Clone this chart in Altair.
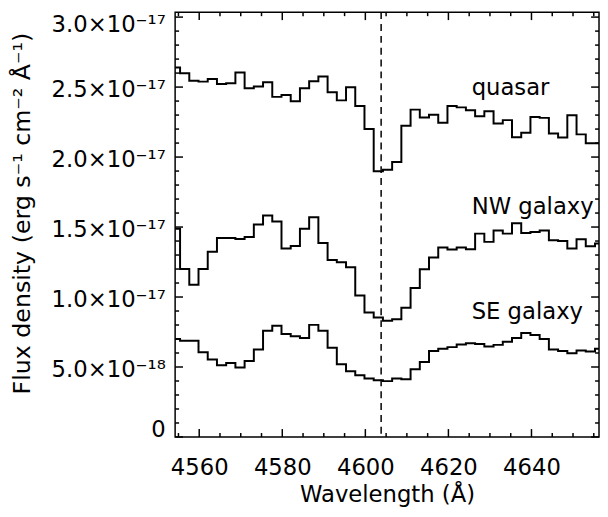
import altair as alt
import pandas as pd

# bin edges (Angstrom) of the spectra; last edge closes the final bin
wavelength_edges = [4553.17, 4555.39, 4557.61, 4559.83, 4562.05, 4564.27, 4566.49, 4568.71,
                    4570.93, 4573.15, 4575.37, 4577.59, 4579.81, 4582.03, 4584.25, 4586.47,
                    4588.69, 4590.91, 4593.13, 4595.35, 4597.57, 4599.79, 4602.01, 4604.23,
                    4606.45, 4608.67, 4610.89, 4613.11, 4615.33, 4617.55, 4619.77, 4621.99,
                    4624.21, 4626.43, 4628.65, 4630.87, 4633.09, 4635.31, 4637.53, 4639.75,
                    4641.97, 4644.19, 4646.41, 4648.63, 4650.85, 4653.07, 4655.29, 4657.51]

# flux density in units of 1e-18 erg s^-1 cm^-2 A^-1, one value per bin
quasar = [26.40, 25.99, 25.46, 25.39, 25.57, 25.22, 25.27, 26.04, 24.92, 25.04, 25.34, 24.30,
          24.44, 23.98, 24.92, 25.41, 25.76, 24.63, 24.05, 24.99, 23.65, 22.00, 18.99, 19.10,
          19.65, 22.24, 23.39, 22.82, 23.03, 22.45, 23.65, 23.55, 23.34, 22.92, 23.27, 22.40,
          22.64, 21.41, 21.74, 22.87, 22.80, 21.69, 21.39, 22.99, 21.62, 20.99, 20.99]
nw_galaxy = [14.88, 12.01, 10.88, 12.01, 13.23, 14.22, 14.22, 14.15, 14.29, 15.18, 15.82, 15.39,
             13.47, 13.65, 14.88, 15.70, 13.86, 12.64, 12.48, 12.13, 10.11, 8.89, 8.53, 8.31,
             8.41, 9.24, 10.65, 11.99, 12.83, 13.54, 13.40, 13.54, 13.42, 14.53, 13.94, 14.76,
             14.53, 15.27, 14.57, 14.64, 14.76, 14.06, 14.01, 13.47, 14.13, 13.63, 13.82]
se_galaxy = [7.00, 6.88, 6.88, 6.06, 5.54, 5.12, 5.29, 4.96, 5.43, 6.25, 7.59, 7.94,
             7.36, 7.19, 7.07, 8.01, 7.59, 6.37, 5.19, 4.70, 4.41, 4.18, 4.06, 3.99,
             4.18, 4.13, 4.84, 5.36, 6.14, 6.30, 6.42, 6.60, 6.70, 6.65, 6.46, 6.58,
             6.81, 7.07, 7.43, 7.28, 7.00, 6.25, 6.14, 5.99, 6.18, 6.11, 6.30]

series_names = ["quasar", "NW galaxy", "SE galaxy"]
label_wavelength = [4625.6, 4625.6, 4625.6]
label_flux = [24.40, 15.94, 8.46]   # 1e-18 units

line_wavelength = [4603.8]

x_major = [4560, 4580, 4600, 4620, 4640]
x_minor = [4555, 4565, 4570, 4575, 4585, 4590, 4595, 4605, 4610, 4615,
           4625, 4630, 4635, 4645, 4650, 4655]
y_major = [0, 5, 10, 15, 20, 25, 30]          # 1e-18 units
y_minor = [1, 2, 3, 4, 6, 7, 8, 9, 11, 12, 13, 14, 16, 17, 18, 19,
           21, 22, 23, 24, 26, 27, 28, 29]     # 1e-18 units

UNIT = 1e-18
W, H = 429.4, 430.3
FONT = "DejaVu Sans"
FS = 23

rows = []
for name, vals in zip(series_names, [quasar, nw_galaxy, se_galaxy]):
    vv = vals + [vals[-1]]
    for wl, v in zip(wavelength_edges, vv):
        rows.append({"wavelength": wl, "flux": v * UNIT, "series": name})
df = pd.DataFrame(rows)

xscale = alt.Scale(domain=[4554.2, 4656.26], nice=False, zero=False)
yscale = alt.Scale(domain=[0, 30.35 * UNIT], nice=False, zero=False)

xaxis = alt.Axis(
    title="Wavelength (Å)", values=x_major, format="d",
    ticks=False, tickSize=0, domain=False, grid=False,
    labelPadding=37.7, labelBaseline="alphabetic", labelFontSize=FS,
    titleX=W / 2, titleY=65.7, titleBaseline="alphabetic", titleAlign="center",
    titleFontSize=FS,
)
yaxis = alt.Axis(
    title="Flux density (erg s⁻¹ cm⁻² Å⁻¹)",
    values=[v * UNIT for v in y_major],
    labelExpr=("datum.value == 0 ? '0' : (datum.value > 9e-18 ? "
               "format(datum.value*1e17, '.1f') + '×10⁻¹⁷' : "
               "format(datum.value*1e18, '.1f') + '×10⁻¹⁸')"),
    ticks=False, tickSize=0, domain=False, grid=False,
    labelPadding=10, labelBaseline="alphabetic",
    labelOffset={"condition": [{"test": "datum.value == 0", "value": 0},
                               {"test": "datum.value > 2.9e-17", "value": 15}],
                 "value": 10},
    labelFontSize=FS,
    titleX=-147.3, titleY=203.5, titleAngle=270, titleBaseline="alphabetic",
    titleAlign="center", titleFontSize=24,
)


def X():
    return alt.X("wavelength:Q", scale=xscale, axis=xaxis)


def Y():
    return alt.Y("flux:Q", scale=yscale, axis=yaxis)


lines = alt.Chart(df).mark_line(
    interpolate="step-after", clip=True, color="black", strokeWidth=2
).encode(x=X(), y=Y(), detail="series:N")

dash = alt.Chart(pd.DataFrame({"wavelength": line_wavelength})).mark_rule(
    color="black", strokeDash=[7, 5], strokeWidth=1.5
).encode(x=X())

labels_df = pd.DataFrame({
    "wavelength": label_wavelength,
    "flux": [v * UNIT for v in label_flux],
    "text": series_names,
})
labels = alt.Chart(labels_df).mark_text(
    align="left", baseline="alphabetic", font=FONT, fontSize=FS, color="black"
).encode(x=X(), y=Y(), text="text:N")

xmaj = pd.DataFrame({"wavelength": x_major})
xmin = pd.DataFrame({"wavelength": x_minor})
ymaj = pd.DataFrame({"flux": [v * UNIT for v in y_major]})
ymin = pd.DataFrame({"flux": [v * UNIT for v in y_minor]})

tick_style = dict(color="black", strokeWidth=1.5)
ticks = [
    alt.Chart(xmaj).mark_rule(**tick_style).encode(x=X(), y=alt.value(H), y2=alt.value(H - 8)),
    alt.Chart(xmaj).mark_rule(**tick_style).encode(x=X(), y=alt.value(0), y2=alt.value(8)),
    alt.Chart(xmin).mark_rule(**tick_style).encode(x=X(), y=alt.value(H), y2=alt.value(H - 4)),
    alt.Chart(xmin).mark_rule(**tick_style).encode(x=X(), y=alt.value(0), y2=alt.value(4)),
    alt.Chart(ymaj).mark_rule(**tick_style).encode(y=Y(), x=alt.value(0), x2=alt.value(8)),
    alt.Chart(ymaj).mark_rule(**tick_style).encode(y=Y(), x=alt.value(W), x2=alt.value(W - 8)),
    alt.Chart(ymin).mark_rule(**tick_style).encode(y=Y(), x=alt.value(0), x2=alt.value(4)),
    alt.Chart(ymin).mark_rule(**tick_style).encode(y=Y(), x=alt.value(W), x2=alt.value(W - 4)),
]

chart = alt.layer(lines, dash, labels, *ticks).properties(
    width=W, height=H,
    autosize=alt.AutoSizeParams(type="none"),
    padding={"left": 169.3, "top": 1, "right": 1, "bottom": 70},
).configure_view(
    stroke="black", strokeWidth=1.5
).configure_axis(
    labelFont=FONT, titleFont=FONT, labelColor="black", titleColor="black",
    titleFontWeight="normal",
)

chart.save("out.html", embed_options={"renderer": "svg", "actions": False})
